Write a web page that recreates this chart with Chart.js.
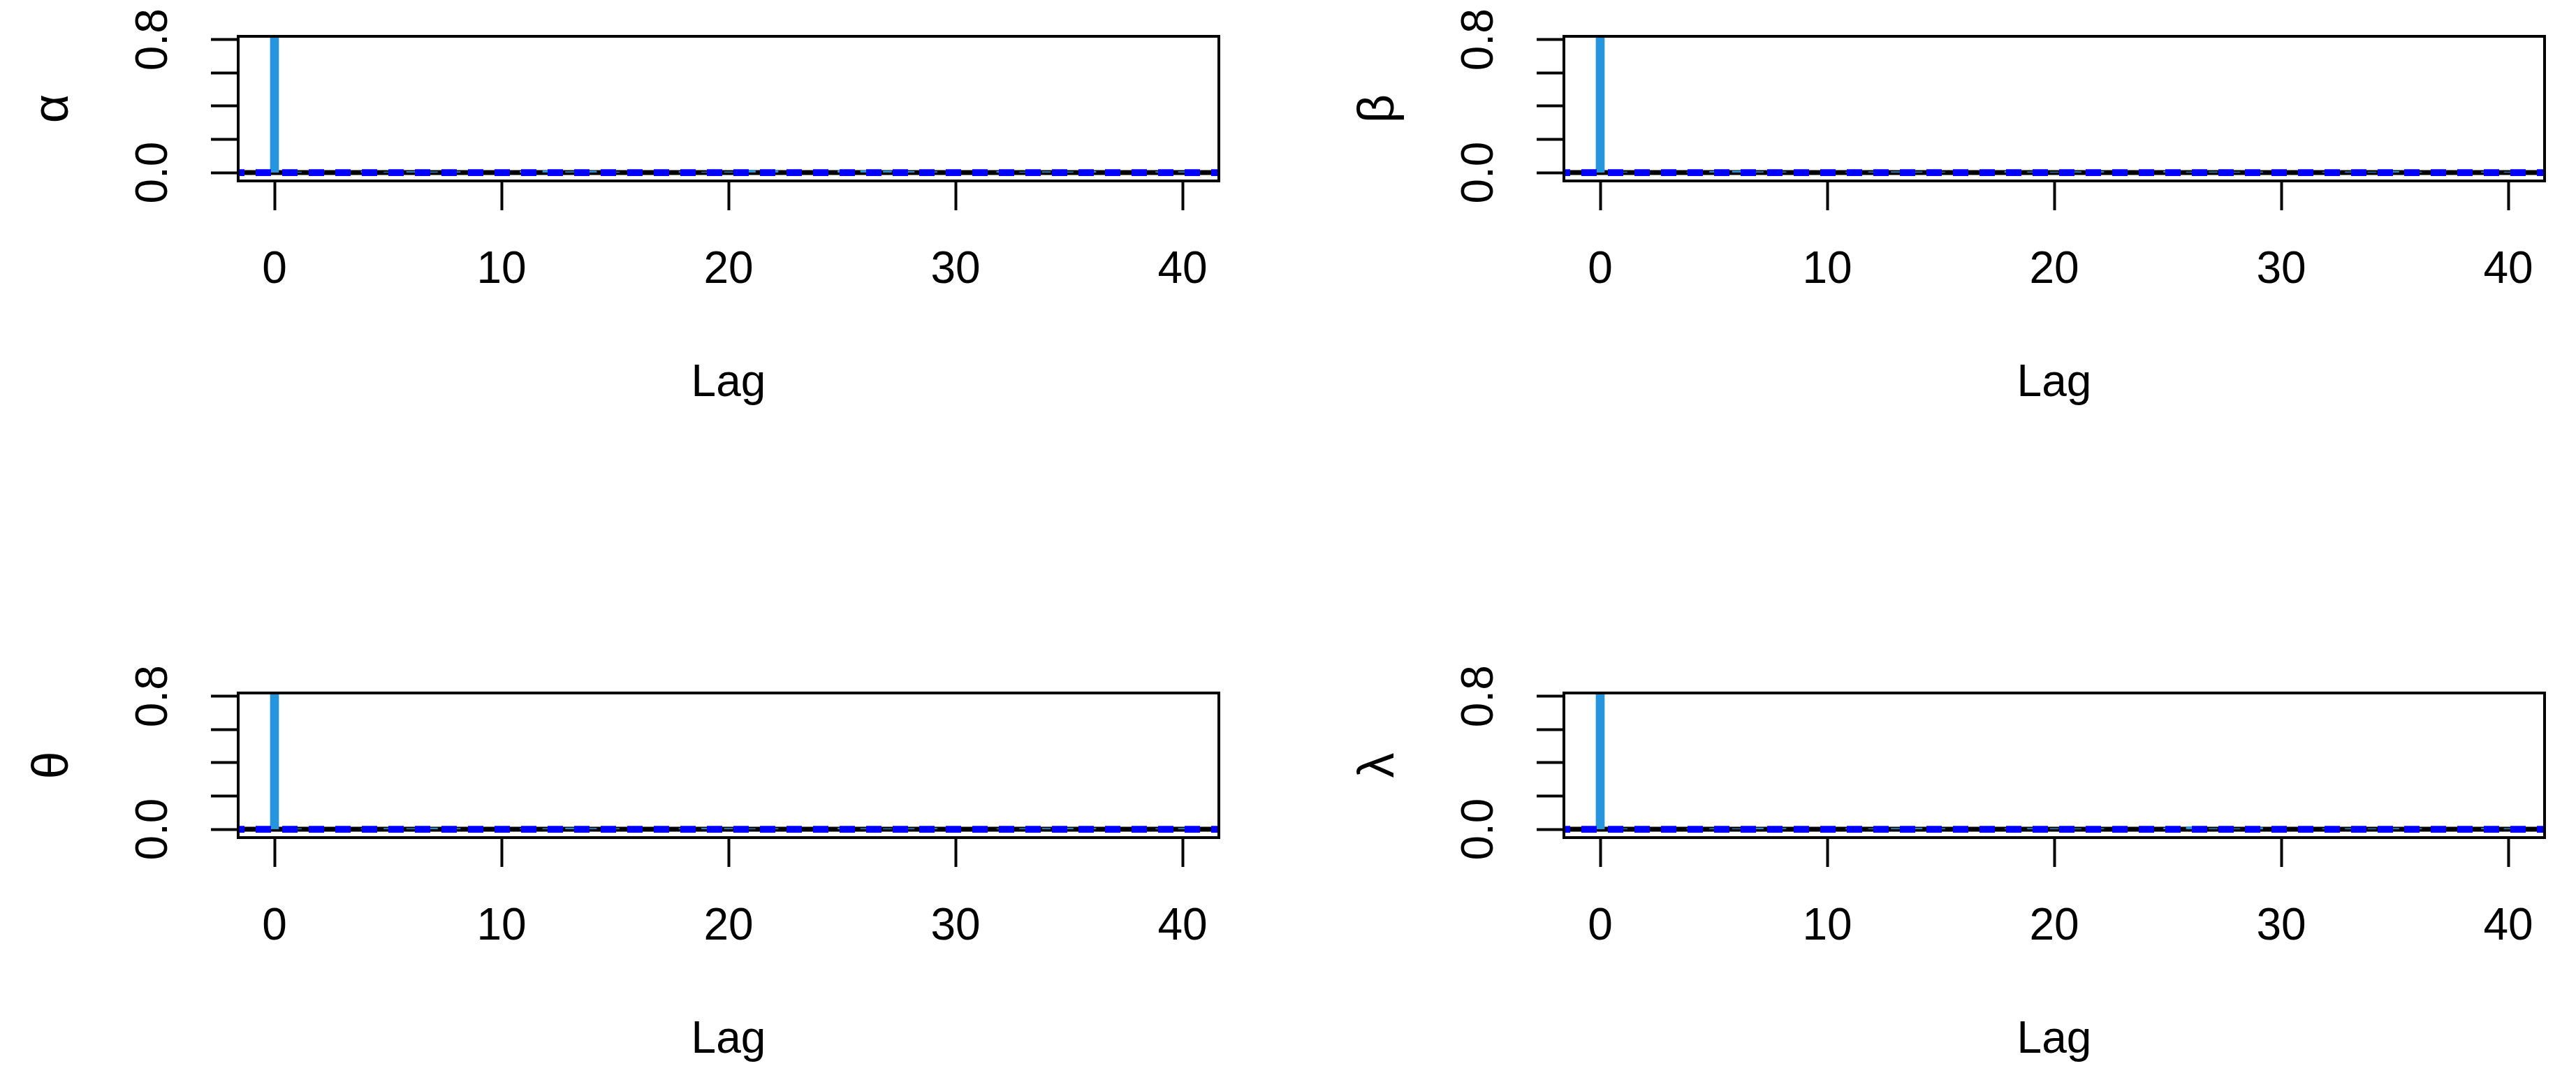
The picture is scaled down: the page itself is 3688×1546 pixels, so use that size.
<!DOCTYPE html>
<html>
<head>
<meta charset="utf-8">
<script src="https://cdn.jsdelivr.net/npm/chart.js@4.4.1/dist/chart.umd.min.js"></script>
<style>
  body { margin: 0; background: #fff; width: 3688px; height: 1546px; overflow: hidden; }
  .panel { position: absolute; width: 1844px; height: 773px; }
</style>
</head>
<body>
<div class="panel" style="left:0;top:0"><canvas id="c0"></canvas></div>
<div class="panel" style="left:1898px;top:0"><canvas id="c1"></canvas></div>
<div class="panel" style="left:0;top:940px"><canvas id="c2"></canvas></div>
<div class="panel" style="left:1898px;top:940px"><canvas id="c3"></canvas></div>
<script>
// chart data
const params = ['α', 'β', 'θ', 'λ'];
const lags = Array.from({ length: 41 }, (_, i) => i);
const acfAlpha = [1, 0.004, 0.012, 0.006, 0.008, 0.004, 0.007, 0.005, 0.006, 0.004, 0.003, 0.008, 0.012, 0.006, 0.01, 0.004, 0.005, 0.006, 0.006, 0.004, 0.005, 0.014, 0.012, 0.016, 0.01, 0.012, 0.012, 0.01, 0.008, 0.006, 0.01, 0.004, 0.008, 0.004, 0.006, 0.005, 0.008, 0.008, 0.004, 0.006, 0.006];
const acfBeta = [1, 0.004, 0.005, 0.006, 0.004, 0.008, 0.01, 0.006, 0.005, 0.004, 0.003, 0.004, 0.005, 0.006, 0.005, 0.004, 0.005, 0.004, 0.008, 0.005, 0.004, 0.006, 0.007, 0.008, 0.006, 0.008, 0.004, 0.005, 0.004, 0.005, 0.004, 0.003, 0.004, 0.005, 0.004, 0.008, 0.004, 0.003, 0.004, 0.005, 0.004];
const acfTheta = [1, 0.004, 0.006, 0.005, 0.004, 0.006, 0.005, 0.008, 0.006, 0.005, 0.01, 0.004, 0.005, 0.008, 0.006, 0.005, 0.004, 0.006, 0.005, 0.007, 0.006, 0.004, 0.005, 0.006, 0.008, 0.007, 0.005, 0.004, 0.005, 0.006, 0.004, 0.005, 0.004, 0.005, 0.006, 0.007, 0.006, 0.005, 0.008, 0.004, 0.006];
const acfLambda = [1, 0.004, 0.006, 0.005, 0.004, 0.005, 0.004, 0.008, 0.006, 0.005, 0.004, 0.005, 0.004, 0.006, 0.007, 0.005, 0.004, 0.005, 0.004, 0.006, 0.005, 0.004, 0.005, 0.004, 0.006, 0.008, 0.016, 0.005, 0.004, 0.01, 0.012, 0.008, 0.004, 0.005, 0.004, 0.006, 0.005, 0.004, 0.01, 0.006, 0.005];
const acfSeries = [acfAlpha, acfBeta, acfTheta, acfLambda];
const ciBound = 0.008;
const xTicks = [0, 10, 20, 30, 40];
const yTicks = [0, 0.2, 0.4, 0.6, 0.8];
const yLabels = { 0: '0.0', 0.8: '0.8' };

const FONT = 'Liberation Sans, Arial, sans-serif';

const boxPlugin = {
    id: 'box',
    afterDraw(chart) {
        const { ctx, chartArea: a } = chart;
        ctx.save();
        ctx.strokeStyle = '#000';
        ctx.lineWidth = 4;
        ctx.strokeRect(a.left, a.top, a.right - a.left, a.bottom - a.top);
        // rotated y labels like R
        const y = chart.scales.y;
        ctx.font = '64px ' + FONT;
        ctx.fillStyle = '#000';
        ctx.textAlign = 'center';
        ctx.textBaseline = 'middle';
        Object.keys(yLabels).forEach(v => {
            ctx.save();
            ctx.translate(221, y.getPixelForValue(Number(v)));
            ctx.rotate(-Math.PI / 2);
            ctx.fillText(yLabels[v], 0, 0);
            ctx.restore();
        });
        ctx.restore();
    }
};

acfSeries.forEach((series, i) => {
    const ctx = document.getElementById('c' + i).getContext('2d');
    new Chart(ctx, {
        type: 'bar',
        data: {
            datasets: [
                {
                    type: 'line', data: [{ x: -2, y: 0 }, { x: 43, y: 0 }],
                    borderColor: '#000', borderWidth: 7, pointRadius: 0, order: 3
                },
                {
                    label: 'acf', data: lags.map(l => ({ x: l, y: series[l] })),
                    backgroundColor: '#2596de', barThickness: 12, order: 2
                },
                {
                    type: 'line', data: [{ x: -2, y: ciBound }, { x: 43, y: ciBound }],
                    borderColor: '#0000ff', borderWidth: 6, borderDash: [22, 16], pointRadius: 0, order: 1
                },
                {
                    type: 'line', data: [{ x: -2, y: -ciBound }, { x: 43, y: -ciBound }],
                    borderColor: '#0000ff', borderWidth: 6, borderDash: [22, 16], pointRadius: 0, order: 1
                }
            ]
        },
        options: {
            responsive: true, maintainAspectRatio: false, animation: false,
            layout: { padding: { top: 52, right: 99, left: 0, bottom: 0 } },
            plugins: { legend: { display: false }, tooltip: { enabled: false } },
            scales: {
                x: {
                    type: 'linear', min: -1.6, max: 41.6, offset: false,
                    afterFit: s => { s.height = 514; },
                    afterBuildTicks: s => { s.ticks = xTicks.map(v => ({ value: v })); },
                    grid: { offset: false, drawOnChartArea: false, tickLength: 42, tickWidth: 4, tickColor: '#000' },
                    border: { display: false },
                    ticks: { color: '#000', font: { size: 64, family: FONT }, padding: 48, maxRotation: 0 },
                    title: { display: true, text: 'Lag', color: '#000', font: { size: 64, family: FONT }, padding: { top: 0, bottom: 185 } }
                },
                y: {
                    min: -0.05, max: 0.82,
                    afterFit: s => { s.width = 341; },
                    afterBuildTicks: s => { s.ticks = yTicks.map(v => ({ value: v })); },
                    grid: { drawOnChartArea: false, tickLength: 39, tickWidth: 4, tickColor: '#000' },
                    border: { display: false },
                    ticks: { display: false },
                    title: { display: true, text: params[i], color: '#000', font: { size: 72, family: FONT }, padding: { top: 34, bottom: 0 } }
                }
            }
        },
        plugins: [boxPlugin]
    });
});
</script>
</body>
</html>
